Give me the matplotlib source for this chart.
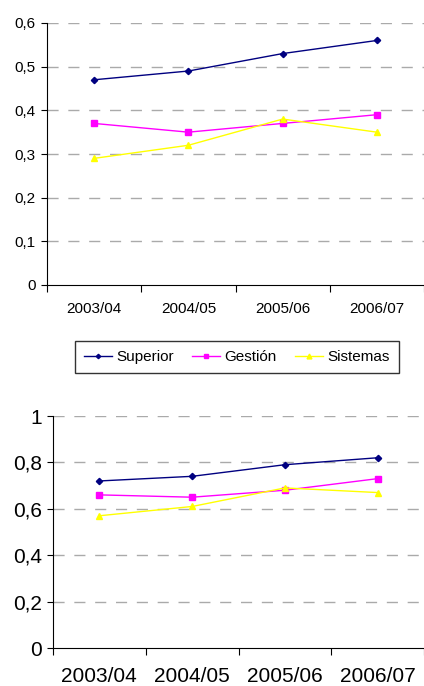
import matplotlib
matplotlib.use("Agg")
import matplotlib.pyplot as plt

years = ["2003/04", "2004/05", "2005/06", "2006/07"]

top_superior = [0.47, 0.49, 0.53, 0.56]
top_gestion = [0.37, 0.35, 0.37, 0.39]
top_sistemas = [0.29, 0.32, 0.38, 0.35]

bot_superior = [0.72, 0.74, 0.79, 0.82]
bot_gestion = [0.66, 0.65, 0.68, 0.73]
bot_sistemas = [0.57, 0.61, 0.69, 0.67]

series_names = ["Superior", "Gestión", "Sistemas"]
colors = ["#000080", "#FF00FF", "#FFFF00"]
markers = ["D", "s", "^"]
msizes = [3.2, 4.5, 5.0]

plt.rcParams['font.family'] = ['Liberation Sans', 'DejaVu Sans']

fig = plt.figure(figsize=(4.24, 6.86), dpi=100)


def comma(v):
    return ('%g' % v).replace('.', ',')


def draw(ax, data, ymax, ystep, fs_y, fs_x, xpad):
    x = [i + 0.5 for i in range(len(years))]
    lines = []
    for vals, name, c, m, ms in zip(data, series_names, colors, markers, msizes):
        ln, = ax.plot(x, vals, color=c, marker=m, markersize=ms, linewidth=1.0, label=name)
        lines.append(ln)
    ax.set_xlim(0, len(years))
    ax.set_ylim(0, ymax)
    yt = [round(i * ystep, 2) for i in range(int(round(ymax / ystep)) + 1)]
    ax.set_yticks(yt)
    ax.set_yticklabels([comma(v) for v in yt], fontsize=fs_y)
    ax.set_xticks(range(len(years) + 1))
    ax.set_xticklabels([])
    ax.set_xticks(x, minor=True)
    ax.set_xticklabels(years, minor=True, fontsize=fs_x)
    ax.tick_params(axis='x', which='minor', length=0, pad=xpad)
    ax.tick_params(axis='x', which='major', length=5, direction='out', color='black')
    ax.tick_params(axis='y', length=4, direction='out', pad=4)
    for v in yt[1:]:
        ax.axhline(v, color='#aaaaaa', linestyle=(0, (8, 7)), linewidth=1.0, zorder=0)
    ax.spines['top'].set_visible(False)
    ax.spines['right'].set_visible(False)
    return lines


ax1 = fig.add_axes([47 / 424, 1 - 285 / 686, 377 / 424, 262 / 686])
lines = draw(ax1, [top_superior, top_gestion, top_sistemas], 0.6, 0.1, 11, 11, 12)

ax2 = fig.add_axes([53 / 424, 1 - 648 / 686, 371 / 424, 232 / 686])
draw(ax2, [bot_superior, bot_gestion, bot_sistemas], 1.0, 0.2, 15, 15, 14)

leg = fig.legend(handles=lines, loc='center', ncol=3,
                 bbox_to_anchor=(237 / 424, 1 - 357 / 686),
                 fontsize=11, frameon=True, fancybox=False,
                 handlelength=1.8, handletextpad=0.3, columnspacing=1.2,
                 borderpad=0.6, markerscale=0.7)
leg.get_frame().set_edgecolor('black')
leg.get_frame().set_linewidth(1.0)

fig.savefig("out.png", dpi=100)
